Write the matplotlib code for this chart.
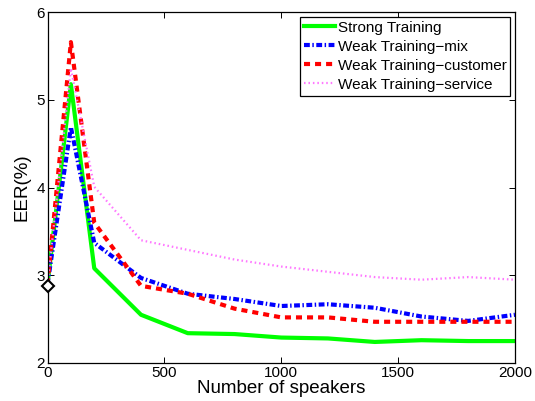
import numpy as np
import matplotlib
matplotlib.use('Agg')
import matplotlib.pyplot as plt

plt.rcParams['font.family'] = ['Liberation Sans', 'DejaVu Sans']

# data
speakers = [0, 100, 200, 400, 600, 800, 1000, 1200, 1400, 1600, 1800, 2000]
strong = [2.9, 5.18, 3.08, 2.55, 2.34, 2.33, 2.29, 2.28, 2.24, 2.26, 2.25, 2.25]
weak_mix = [2.9, 4.69, 3.37, 2.97, 2.79, 2.73, 2.65, 2.67, 2.63, 2.53, 2.48, 2.55]
weak_customer = [2.9, 5.66, 3.6, 2.88, 2.79, 2.62, 2.52, 2.52, 2.47, 2.47, 2.47, 2.47]
weak_service = [2.9, 5.36, 4.01, 3.4, 3.29, 3.18, 3.1, 3.04, 2.98, 2.95, 2.98, 2.95]
baseline_x = [0]
baseline_y = [2.88]

fig = plt.figure(figsize=(5.35, 4.01), dpi=100)
ax = fig.add_axes([0.0888, 0.0948, 0.8738, 0.8745])

ax.plot(speakers, strong, color=(0, 1, 0), lw=3, label='Strong Training')
ax.plot(speakers, weak_mix, color='b', lw=3, ls=(0, (1.4, 0.6, 0.35, 0.6)),
        label='Weak Training\u2212mix')
ax.plot(speakers, weak_customer, color='r', lw=3, ls=(0, (1.45, 1.2)),
        label='Weak Training\u2212customer')
ax.plot(speakers, weak_service, color='#ff77ff', lw=1.6, ls=(0, (0.7, 1.3)),
        label='Weak Training\u2212service')
ax.plot(baseline_x, baseline_y, marker='D', ms=6, mfc='white', mec='k',
        mew=1.5, ls='none', clip_on=False, zorder=5)

ax.set_xlim(0, 2000)
ax.set_ylim(2, 6)
ax.set_xticks([0, 500, 1000, 1500, 2000])
ax.set_yticks([2, 3, 4, 5, 6])
ax.tick_params(direction='in', top=True, right=True, labelsize=11, length=4,
               width=0.7, pad=2)
for s in ax.spines.values():
    s.set_linewidth(0.9)

ax.set_xlabel('Number of speakers', fontsize=13.5, labelpad=0)
ax.set_ylabel('EER(%)', fontsize=13.5, labelpad=4)

leg = ax.legend(loc='upper right', fontsize=11, handlelength=2.0,
                handletextpad=0.2, borderaxespad=0.3, labelspacing=0.33,
                borderpad=0.25, fancybox=False, framealpha=1)
leg.get_frame().set_edgecolor('k')
leg.get_frame().set_linewidth(0.9)

fig.savefig('out.png', dpi=100)
